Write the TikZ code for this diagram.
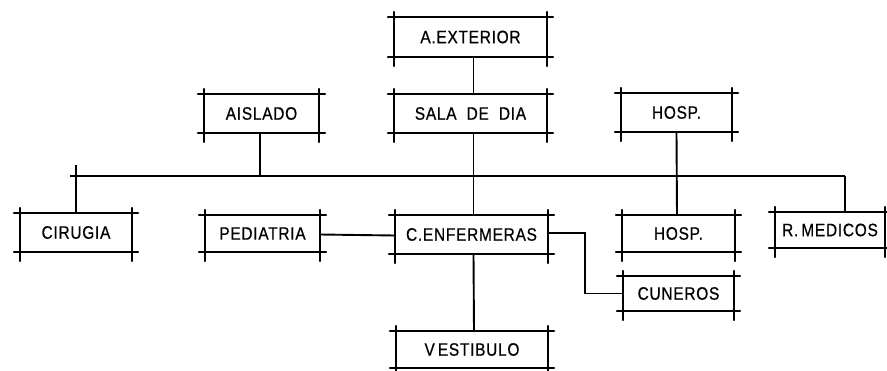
\documentclass[tikz,border=0pt]{standalone}
\usepackage{fontspec}
\setmainfont{Liberation Sans}[FakeStretch=0.86, FakeBold=0.6, LetterSpace=4]
\newcommand\archframe[1]{%
  \draw[frameline] ([xshift=-6pt]#1.north west) -- ([xshift=6pt]#1.north east);
  \draw[frameline] ([xshift=-6pt]#1.south west) -- ([xshift=6pt]#1.south east);
  \draw[frameline] ([yshift=5pt]#1.north west) -- ([yshift=-9pt]#1.south west);
  \draw[frameline] ([yshift=5pt]#1.north east) -- ([yshift=-9pt]#1.south east);
}
\tikzset{
  frameline/.style={line width=1.7pt, line cap=round},
  link/.style={line width=1.9pt},
  room/.style={inner sep=0pt, font=\fontsize{18}{18}\selectfont, text=black},
}
\begin{document}
\begin{tikzpicture}[x=1pt,y=-1pt]
\useasboundingbox[fill=white] (0,0) rectangle (887,370);
% boxes
\node[room, minimum width=153pt, minimum height=40pt] (aext) at (470.5,37) {A.EXTERIOR};
\node[room, minimum width=153pt, minimum height=39pt] (sala) at (470.5,113.5) {SALA\ \ DE\ \ DIA};
\node[room, minimum width=115pt, minimum height=39pt] (aisl) at (261.5,113.5) {AISLADO};
\node[room, minimum width=111pt, minimum height=39pt] (hospa) at (676.5,112.5) {HOSP.};
\node[room, minimum width=112pt, minimum height=39pt] (cir) at (76,232.5) {CIRUGIA};
\node[room, minimum width=115pt, minimum height=37pt] (ped) at (262.5,233.5) {PEDIATRIA};
\node[room, minimum width=153pt, minimum height=39pt] (cenf) at (471.5,234.5) {C.ENFERMERAS};
\node[room, minimum width=113pt, minimum height=37pt] (hospb) at (678.5,233.5) {HOSP.};
\node[room, minimum width=110pt, minimum height=36pt] (rmed) at (830,230) {R.\,MEDICOS};
\node[room, minimum width=111pt, minimum height=35pt] (cun) at (678.5,293.5) {CUNEROS};
\node[room, minimum width=152pt, minimum height=37pt] (vest) at (472,349.5) {V\,ESTIBULO};
\foreach \b in {aext,sala,aisl,hospa,cir,ped,cenf,hospb,rmed,cun,vest}{\archframe{\b}}
% bus
\coordinate (busL) at (70,176);
\coordinate (busR) at (845,176);
\draw[link] (busL) -- (busR);
% connectors
\draw[link] ([xshift=3pt]aext.south) -- ([xshift=3pt]sala.north);
\draw[link] ([xshift=3pt]sala.south) -- ([xshift=2pt]cenf.north);
\draw[link] ([xshift=2pt]cenf.south) -- ([xshift=2pt]vest.north);
\draw[link] ([xshift=-1.5pt]aisl.south) -- ([xshift=-1.5pt]aisl.south |- busL);
\draw[link] (hospa.south) -- ([xshift=-1.5pt]hospb.north);
\draw[link] ([yshift=11pt]busL -| cir.north) -- (cir.north);
\draw[link] (busR) -- (busR |- rmed.north);
\draw[link] ([yshift=-1pt]ped.east) -- ([yshift=-1pt]cenf.west);
\coordinate (bend) at (585,233);
\draw[link] (cenf.east |- bend) -- (bend) -- (bend |- cun.west) -- (cun.west);
\end{tikzpicture}
\end{document}
